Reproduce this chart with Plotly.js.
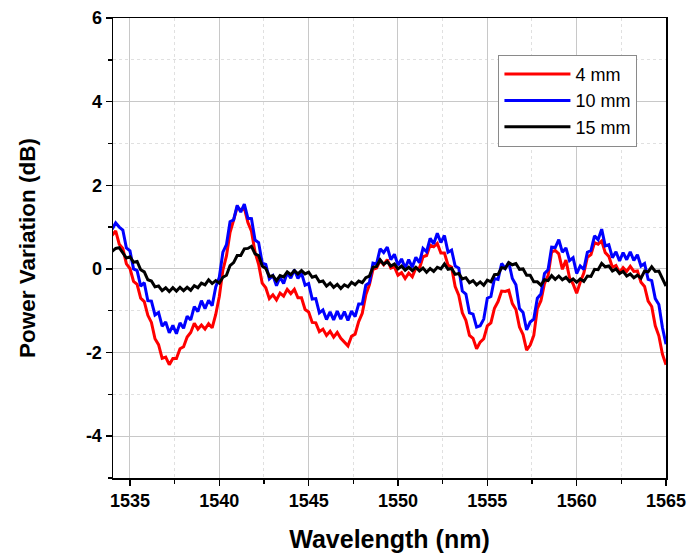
<!DOCTYPE html>
<html>
<head>
<meta charset="utf-8">
<script src="https://cdn.plot.ly/plotly-3.0.1.min.js"></script>
<style>html,body{margin:0;padding:0;background:#fff;}#chart{width:691px;height:556px;}</style>
</head>
<body>
<div id="chart"></div>
<script>
// Wavelength grid (nm)
const wavelength = [1534.0,1534.2,1534.4,1534.6,1534.8,1535.0,1535.2,1535.4,1535.6,1535.8,1536.0,1536.2,1536.4,1536.6,1536.8,1537.0,1537.2,1537.4,1537.6,1537.8,1538.0,1538.2,1538.4,1538.6,1538.8,1539.0,1539.2,1539.4,1539.6,1539.8,1540.0,1540.2,1540.4,1540.6,1540.8,1541.0,1541.2,1541.4,1541.6,1541.8,1542.0,1542.2,1542.4,1542.6,1542.8,1543.0,1543.2,1543.4,1543.6,1543.8,1544.0,1544.2,1544.4,1544.6,1544.8,1545.0,1545.2,1545.4,1545.6,1545.8,1546.0,1546.2,1546.4,1546.6,1546.8,1547.0,1547.2,1547.4,1547.6,1547.8,1548.0,1548.2,1548.4,1548.6,1548.8,1549.0,1549.2,1549.4,1549.6,1549.8,1550.0,1550.2,1550.4,1550.6,1550.8,1551.0,1551.2,1551.4,1551.6,1551.8,1552.0,1552.2,1552.4,1552.6,1552.8,1553.0,1553.2,1553.4,1553.6,1553.8,1554.0,1554.2,1554.4,1554.6,1554.8,1555.0,1555.2,1555.4,1555.6,1555.8,1556.0,1556.2,1556.4,1556.6,1556.8,1557.0,1557.2,1557.4,1557.6,1557.8,1558.0,1558.2,1558.4,1558.6,1558.8,1559.0,1559.2,1559.4,1559.6,1559.8,1560.0,1560.2,1560.4,1560.6,1560.8,1561.0,1561.2,1561.4,1561.6,1561.8,1562.0,1562.2,1562.4,1562.6,1562.8,1563.0,1563.2,1563.4,1563.6,1563.8,1564.0,1564.2,1564.4,1564.6,1564.8,1565.0];

// Power variation (dB), 4 mm
const power4mm = [0.80,0.91,0.59,0.49,0.12,0.01,-0.30,-0.37,-0.70,-0.78,-1.11,-1.28,-1.67,-1.81,-2.14,-2.11,-2.29,-2.14,-2.14,-1.91,-1.86,-1.63,-1.52,-1.30,-1.44,-1.34,-1.44,-1.31,-1.41,-1.09,-0.66,-0.03,0.31,0.87,1.17,1.48,1.41,1.46,1.11,0.90,0.40,0.11,-0.34,-0.45,-0.71,-0.62,-0.74,-0.58,-0.65,-0.49,-0.59,-0.49,-0.69,-0.69,-0.97,-1.03,-1.28,-1.29,-1.50,-1.44,-1.59,-1.49,-1.63,-1.52,-1.66,-1.74,-1.84,-1.61,-1.56,-1.26,-1.06,-0.62,-0.38,-0.01,0.02,0.20,0.10,0.22,0.02,0.05,-0.15,-0.09,-0.23,-0.10,-0.19,0.02,0.01,0.29,0.32,0.57,0.53,0.61,0.38,0.38,0.09,0.04,-0.42,-0.63,-1.05,-1.23,-1.59,-1.66,-1.91,-1.75,-1.67,-1.36,-1.29,-0.94,-0.78,-0.53,-0.54,-0.51,-0.83,-0.97,-1.39,-1.57,-1.94,-1.82,-1.59,-0.95,-0.76,-0.35,-0.16,0.41,0.44,0.36,-0.01,0.21,-0.21,-0.36,-0.58,-0.32,-0.10,0.28,0.34,0.63,0.59,0.67,0.39,0.30,0.04,0.08,-0.09,0.03,-0.06,0.06,-0.06,-0.05,-0.32,-0.42,-0.77,-0.90,-1.36,-1.60,-2.04,-2.29];

// Power variation (dB), 10 mm
const power10mm = [0.95,1.10,1.00,0.93,0.50,0.43,0.00,-0.04,-0.41,-0.33,-0.76,-0.77,-1.10,-1.04,-1.37,-1.27,-1.53,-1.35,-1.55,-1.29,-1.42,-1.13,-1.22,-0.90,-1.02,-0.76,-0.95,-0.75,-0.88,-0.43,-0.20,0.40,0.58,1.13,1.17,1.52,1.36,1.55,1.21,1.20,0.69,0.63,0.14,0.11,-0.24,-0.16,-0.40,-0.20,-0.35,-0.09,-0.22,-0.02,-0.23,-0.10,-0.39,-0.35,-0.72,-0.71,-1.05,-0.98,-1.21,-1.03,-1.22,-1.01,-1.20,-1.02,-1.23,-1.01,-1.14,-0.84,-0.84,-0.39,-0.33,0.14,0.12,0.48,0.39,0.52,0.22,0.35,0.09,0.24,0.02,0.22,0.04,0.28,0.15,0.49,0.41,0.73,0.60,0.85,0.63,0.80,0.40,0.45,0.07,0.02,-0.53,-0.60,-1.05,-1.08,-1.39,-1.36,-1.20,-0.70,-0.66,-0.23,-0.25,0.13,0.01,0.16,-0.23,-0.38,-0.95,-1.04,-1.46,-1.27,-1.20,-0.70,-0.60,-0.11,-0.02,0.52,0.51,0.70,0.40,0.50,0.20,0.27,-0.11,0.07,-0.01,0.40,0.44,0.79,0.70,0.95,0.55,0.58,0.27,0.41,0.19,0.39,0.22,0.41,0.20,0.34,0.07,0.13,-0.25,-0.28,-0.71,-0.85,-1.40,-1.80];

// Power variation (dB), 15 mm
const power15mm = [0.42,0.49,0.51,0.39,0.26,0.29,0.16,0.18,-0.02,-0.07,-0.26,-0.29,-0.43,-0.41,-0.52,-0.45,-0.54,-0.45,-0.53,-0.44,-0.52,-0.44,-0.51,-0.40,-0.45,-0.34,-0.38,-0.26,-0.35,-0.28,-0.34,-0.20,-0.15,0.08,0.15,0.32,0.32,0.48,0.49,0.54,0.36,0.32,0.07,0.01,-0.18,-0.16,-0.28,-0.16,-0.19,-0.07,-0.14,-0.04,-0.12,-0.04,-0.12,-0.08,-0.20,-0.17,-0.31,-0.29,-0.41,-0.34,-0.44,-0.37,-0.47,-0.38,-0.43,-0.32,-0.38,-0.29,-0.33,-0.21,-0.17,0.04,0.06,0.22,0.11,0.17,0.07,0.12,0.00,0.07,-0.03,0.04,-0.04,0.04,-0.05,0.02,-0.08,0.01,-0.06,0.04,0.00,0.12,-0.01,0.01,-0.13,-0.11,-0.24,-0.21,-0.33,-0.28,-0.38,-0.31,-0.39,-0.27,-0.31,-0.14,-0.13,0.03,0.01,0.15,0.10,0.13,-0.01,0.00,-0.15,-0.15,-0.31,-0.31,-0.39,-0.26,-0.28,-0.16,-0.25,-0.17,-0.26,-0.20,-0.30,-0.24,-0.32,-0.24,-0.30,-0.17,-0.18,-0.01,-0.02,0.13,0.05,0.07,-0.05,0.00,-0.11,-0.06,-0.17,-0.12,-0.21,-0.15,-0.22,-0.05,-0.07,0.05,-0.06,-0.05,-0.22,-0.41];

const seriesNames = ['4 mm', '10 mm', '15 mm'];
const seriesColors = ['#ff0000', '#0000ff', '#000000'];
const seriesValues = [power4mm, power10mm, power15mm];

const xTickVals = [1535, 1540, 1545, 1550, 1555, 1560, 1565];
const yTickVals = [-4, -2, 0, 2, 4, 6];
const yTickText = ['-4', '-2', '0', '2', '4', '6'];
const xMinorVals = [1537.5, 1542.5, 1547.5, 1552.5, 1557.5, 1562.5];
const yMinorVals = [-5, -3, -1, 1, 3, 5];

const fontFam = 'Arial, "Liberation Sans", Helvetica, sans-serif';

const traces = seriesValues.map((vals, k) => ({
  x: wavelength,
  y: vals,
  type: 'scatter',
  mode: 'lines',
  name: seriesNames[k],
  line: {color: seriesColors[k], width: 3}
}));

const axisCommon = {
  showline: true,
  linecolor: '#000',
  linewidth: 1.5,
  mirror: true,
  ticks: 'outside',
  ticklen: 6,
  tickwidth: 1.5,
  tickcolor: '#000',
  showgrid: true,
  gridcolor: '#c8c8c8',
  gridwidth: 1,
  zeroline: false,
  tickfont: {family: fontFam, size: 18, color: '#000', weight: 'bold'}
};

const minorCommon = {ticks: 'outside', ticklen: 4, tickwidth: 1.5, tickcolor: '#000', showgrid: true, gridcolor: '#e0e0e0', griddash: 'dot', gridwidth: 1};

const layout = {
  width: 691,
  height: 556,
  margin: {l: 113, r: 25, t: 18, b: 78},
  paper_bgcolor: '#fff',
  plot_bgcolor: '#fff',
  showlegend: true,
  legend: {
    x: 0.697, y: 0.92, xanchor: 'left', yanchor: 'top',
    bgcolor: '#fff', bordercolor: '#8a8a8a', borderwidth: 1,
    font: {family: fontFam, size: 18, color: '#000'},
    itemwidth: 66,
    tracegroupgap: 0
  },
  xaxis: Object.assign({}, axisCommon, {
    range: [1534.05, 1565],
    tickvals: xTickVals,
    title: {text: 'Wavelength (nm)', font: {family: fontFam, size: 25, color: '#000', weight: 'bold'}, standoff: 20},
    minor: Object.assign({tickvals: xMinorVals}, minorCommon)
  }),
  yaxis: Object.assign({}, axisCommon, {
    range: [-5, 6],
    tickvals: yTickVals,
    ticktext: yTickText,
    title: {text: 'Power Variation (dB)', font: {family: fontFam, size: 22.5, color: '#000', weight: 'bold'}, standoff: 44},
    minor: Object.assign({tickvals: yMinorVals}, minorCommon)
  })
};

Plotly.newPlot('chart', traces, layout, {displayModeBar: false, staticPlot: true});
</script>
</body>
</html>
